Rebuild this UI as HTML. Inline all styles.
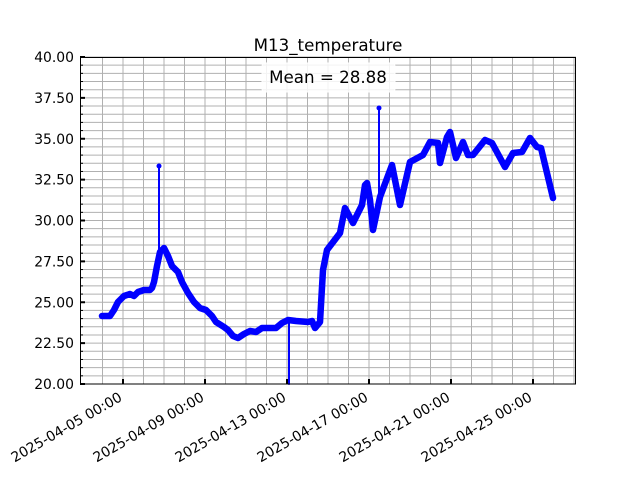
<!DOCTYPE html>
<html><head><meta charset="utf-8"><style>body{margin:0;background:#fff}svg{display:block;font-family:"DejaVu Sans","Liberation Sans",sans-serif}</style></head><body>
<svg width="640" height="480" viewBox="0 0 640 480">
<rect width="640" height="480" fill="#fff"/>
<g id="grid" stroke="#b0b0b0" stroke-width="1"></g>
<g fill="none" stroke="#0000ff" stroke-linejoin="round" stroke-linecap="round">
<polyline stroke-width="2" points="159,260 159,166"/>
<polyline stroke-width="2" points="379,205 379,108"/>
<polyline stroke-width="2" points="289,322 289,384"/>
<polyline stroke-width="6.5" points="102,316 110,316 114,310 118,302 124,296 130,294 134,296 138,292 144,290 150,290 152,288 154,282 157,266 160,252 164,248 168,256 172,266 178,272 182,282 188,293 194,302 200,308 206,310 212,316 216,322 224,327 228,330 233,336 238,338 244,334 250,331 256,332 262,328 268,328 276,328 282,323 288,320 296,321 308,322 312,321 315,328 320,322 323,270 327,250 340,233 345,208 353,223 362,205 365,185 367,183 370,200 373,230 380,197 392,165 396,185 400,205 410,162 423,155 430,142 438,143 440,163 447,137 450,132 456,158 463,142 468,155 473,155 485,140 492,143 505,167 513,153 522,152 530,138 537,147 541,148 553,198"/>
</g>
<circle cx="159" cy="166" r="2.5" fill="#0000ff"/>
<circle cx="379" cy="108" r="2.5" fill="#0000ff"/>
<rect x="80.5" y="57.5" width="495" height="326.5" fill="none" stroke="#000" stroke-width="1"/>
<g id="ticks" stroke="#000"></g>
<g id="labels" font-size="13.9" fill="#000"></g>
<text x="328" y="51" font-size="16.7" text-anchor="middle">M13_temperature</text>
<rect x="262" y="63" width="133" height="29" rx="3" fill="#fff" fill-opacity="0.85" stroke="#fff"/>
<text x="328" y="83" font-size="16.7" text-anchor="middle">Mean = 28.88</text>
</svg>
<script>
var ns="http://www.w3.org/2000/svg",g=document.getElementById("grid"),t=document.getElementById("ticks"),l=document.getElementById("labels");
function ln(p,x1,y1,x2,y2,w){var e=document.createElementNS(ns,"line");e.setAttribute("x1",x1);e.setAttribute("y1",y1);e.setAttribute("x2",x2);e.setAttribute("y2",y2);if(w)e.setAttribute("stroke-width",w);p.appendChild(e);}
function tx(x,y,s,a,r){var e=document.createElementNS(ns,"text");e.setAttribute("x",x);e.setAttribute("y",y);e.setAttribute("text-anchor",a);if(r)e.setAttribute("transform","rotate(-30 "+x+" "+y+")");e.textContent=s;l.appendChild(e);}
for(var i=0;i<=40;i++){var y=384-i*327/40;ln(g,80,y,576,y);ln(t,80,y,i%5?83:85,y,i%5?1:2);
if(i%5==0)tx(74,y+5,(20+i/2).toFixed(2),"end");}
for(var d=-1;d<=23;d++){var x=123+d*20.5;if(x<81||x>575)continue;ln(g,x,57,x,384);}
var lab=["2025-04-05 00:00","2025-04-09 00:00","2025-04-13 00:00","2025-04-17 00:00","2025-04-21 00:00","2025-04-25 00:00"];
for(var k=0;k<6;k++){var x=123+k*82;ln(t,x,384,x,379,2);tx(x,400,lab[k],"end",1);}
</script>
</body></html>
